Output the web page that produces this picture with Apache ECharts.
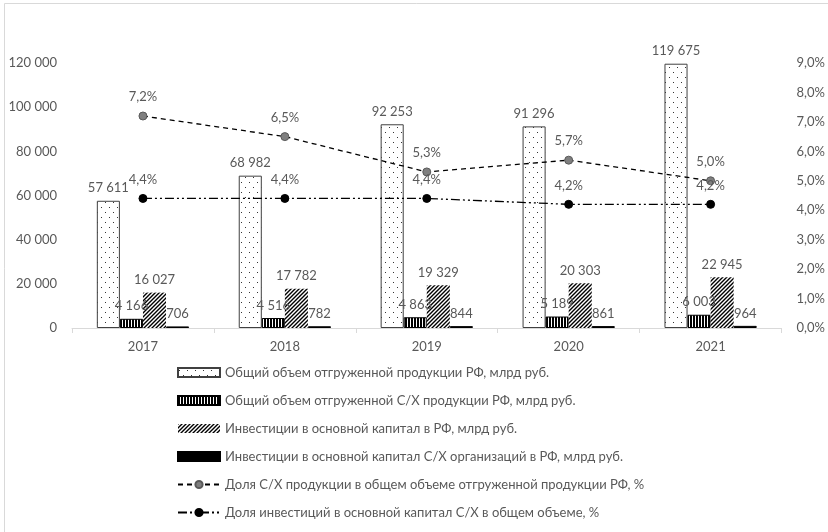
<!DOCTYPE html>
<html>
<head>
<meta charset="utf-8">
<script src="https://cdn.jsdelivr.net/npm/echarts@6/dist/echarts.min.js"></script>
<style>
  html, body { margin: 0; padding: 0; background: #fff; }
  #chart { width: 828px; height: 532px; }
</style>
</head>
<body>
<div id="chart"></div>
<script>
// Years on the category axis
const years = ['2017', '2018', '2019', '2020', '2021'];

// Bars, bn rubles
const totalOutput = [57611, 68982, 92253, 91296, 119675];
const agriOutput = [4166, 4516, 4863, 5189, 6003];
const totalInvest = [16027, 17782, 19329, 20303, 22945];
const agriInvest = [706, 782, 844, 861, 964];

// Lines, percent
const agriOutputShare = [7.2, 6.5, 5.3, 5.7, 5.0];
const agriInvestShare = [4.4, 4.4, 4.4, 4.2, 4.2];

// Axis ranges
const leftTicks = { min: 0, max: 120000, interval: 20000 };
const rightTicks = { min: 0, max: 9, interval: 1 };

const seriesNames = [
  'Общий объем отгруженной продукции РФ, млрд руб.',
  'Общий объем отгруженной С/Х продукции РФ, млрд руб.',
  'Инвестиции в основной капитал в РФ, млрд руб.',
  'Инвестиции в основной капитал С/Х организаций в РФ, млрд руб.',
  'Доля С/Х продукции в общем объеме отгруженной продукции РФ, %',
  'Доля инвестиций в основной капитал С/Х в общем объеме, %'
];

const FONT = 'Lato, "Noto Sans", sans-serif';
const TEXT = '#595959';

function tile(w, h, draw) {
  const c = document.createElement('canvas');
  c.width = w; c.height = h;
  const g = c.getContext('2d');
  g.fillStyle = '#fff';
  g.fillRect(0, 0, w, h);
  draw(g);
  return { image: c, repeat: 'repeat' };
}

// sparse staggered dots
const dotFill = tile(8, 10, g => {
  g.fillStyle = '#333';
  g.fillRect(1, 2, 1, 1);
  g.fillRect(5, 7, 1, 1);
});
// dense vertical stripes
const stripeFill = tile(3, 4, g => {
  g.fillStyle = '#000';
  g.fillRect(0, 0, 2, 4);
});
// forward diagonal hatch
const hatchFill = tile(4, 4, g => {
  g.strokeStyle = '#000';
  g.lineWidth = 1.4;
  g.beginPath();
  g.moveTo(-1, 5); g.lineTo(5, -1);
  g.moveTo(-1, 1); g.lineTo(1, -1);
  g.moveTo(3, 5); g.lineTo(5, 3);
  g.stroke();
});

const spaced = v => String(v).replace(/\B(?=(\d{3})+(?!\d))/g, ' ');
const pct = v => Number(v).toFixed(1).replace('.', ',') + '%';

const barLabel = {
  show: true, position: 'top', distance: 6,
  color: TEXT, fontFamily: FONT, fontSize: 13,
  formatter: p => spaced(p.value)
};

function barSeries(name, data, fill, border) {
  return {
    name, type: 'bar', data,
    barGap: '0%', barCategoryGap: '35%',
    itemStyle: { color: fill, borderColor: border || 'transparent', borderWidth: border ? 1 : 0 },
    label: barLabel,
    emphasis: { disabled: true },
    z: 2
  };
}

function lineSeries(name, data, dash, markerColor) {
  return {
    name, type: 'line', data, yAxisIndex: 1,
    symbol: 'circle', symbolSize: 8,
    lineStyle: { color: '#000', width: 1.3, type: dash },
    itemStyle: { color: markerColor, borderColor: markerColor === '#000' ? '#000' : '#595959', borderWidth: 1 },
    label: {
      show: true, position: 'top', distance: 8,
      color: TEXT, fontFamily: FONT, fontSize: 13,
      formatter: p => pct(p.value)
    },
    emphasis: { disabled: true },
    z: 5
  };
}

const chart = echarts.init(document.getElementById('chart'), null, { renderer: 'canvas' });

chart.setOption({
  animation: false,
  backgroundColor: '#fff',
  textStyle: { fontFamily: FONT, color: TEXT },
  grid: { left: 72, right: 46, top: 63, bottom: 204 },
  graphic: [{
    type: 'rect',
    shape: { x: 4.5, y: 3.5, width: 900, height: 700 },
    style: { fill: 'none', stroke: '#d9d9d9', lineWidth: 1 },
    silent: true
  }],
  legend: {
    orient: 'vertical',
    left: 172, top: 361,
    itemWidth: 42, itemHeight: 9, itemGap: 15,
    textStyle: { color: TEXT, fontFamily: FONT, fontSize: 13 },
    data: [
      { name: seriesNames[0], icon: 'rect' },
      { name: seriesNames[1], icon: 'rect' },
      { name: seriesNames[2], icon: 'rect' },
      { name: seriesNames[3], icon: 'rect' },
      { name: seriesNames[4] },
      { name: seriesNames[5] }
    ],
    selectedMode: false
  },
  xAxis: {
    type: 'category',
    data: years,
    axisLine: { lineStyle: { color: '#d9d9d9', width: 1 } },
    axisTick: { show: true, length: 5, lineStyle: { color: '#d9d9d9' } },
    axisLabel: { color: TEXT, fontFamily: FONT, fontSize: 13, margin: 12 }
  },
  yAxis: [
    {
      type: 'value', ...leftTicks,
      axisLine: { show: false }, axisTick: { show: false }, splitLine: { show: false },
      axisLabel: { color: TEXT, fontFamily: FONT, fontSize: 13, margin: 15, formatter: v => spaced(v) }
    },
    {
      type: 'value', ...rightTicks,
      axisLine: { show: false }, axisTick: { show: false }, splitLine: { show: false },
      axisLabel: { color: TEXT, fontFamily: FONT, fontSize: 13, margin: 15, formatter: v => pct(v) }
    }
  ],
  series: [
    barSeries(seriesNames[0], totalOutput, dotFill, '#404040'),
    barSeries(seriesNames[1], agriOutput, stripeFill, '#000'),
    barSeries(seriesNames[2], totalInvest, hatchFill),
    barSeries(seriesNames[3], agriInvest, '#000', '#000'),
    lineSeries(seriesNames[4], agriOutputShare, [5, 4], '#7f7f7f'),
    lineSeries(seriesNames[5], agriInvestShare, [9, 3, 2, 3, 2, 3], '#000')
  ]
});
</script>
</body>
</html>
